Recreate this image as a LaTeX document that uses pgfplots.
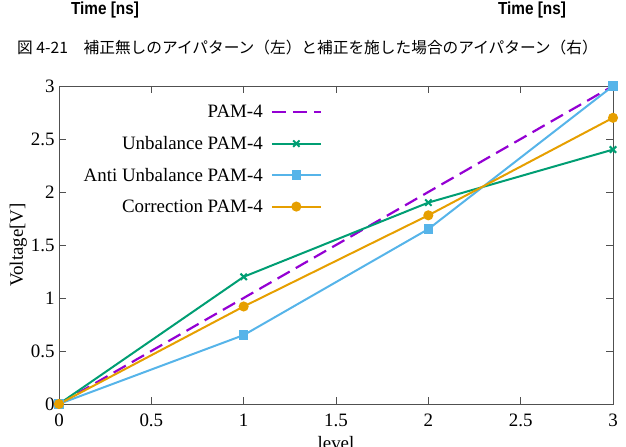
\documentclass[border=0pt]{standalone}
\usepackage{pgfplots}
\pgfplotsset{compat=1.18}
\usepackage{fontspec}
\setmainfont{Liberation Serif}
\newfontfamily\headsans{Liberation Sans}
\newfontfamily\cjk{Noto Sans CJK JP}

\definecolor{gpviolet}{HTML}{9400D3}
\definecolor{gpgreen}{HTML}{009E73}
\definecolor{gpblue}{HTML}{56B4E9}
\definecolor{gporange}{HTML}{E69F00}
\definecolor{framegray}{HTML}{505050}

\begin{document}
\begin{tikzpicture}
\clip (0,0) rectangle (626bp,447bp);
% axis titles of the eye diagrams above (cut by the page edge)
\node[font=\headsans\bfseries\fontsize{17.5}{19}\selectfont, xscale=0.88, anchor=base] at (105bp,432bp) {Time [ns]};
\node[font=\headsans\bfseries\fontsize{17.5}{19}\selectfont, xscale=0.88, anchor=base] at (532bp,432bp) {Time [ns]};
% caption
\node[font=\cjk\fontsize{15.75}{17}\selectfont, anchor=west, inner sep=0pt] at (17bp,399bp)
  {図 4-21　補正無しのアイパターン（左）と補正を施した場合のアイパターン（右）};

\begin{axis}[
  at={(59bp,43bp)}, anchor=south west,
  scale only axis, width=554bp, height=318bp,
  xmin=0, xmax=3, ymin=0, ymax=3,
  xtick={0,0.5,...,3}, ytick={0,0.5,...,3},
  tick align=inside, tick pos=both,
  major tick length=7bp,
  axis line style={framegray, line width=0.8bp},
  every tick/.style={framegray, line width=0.8bp},
  tick label style={font=\fontsize{19}{21}\selectfont},
  xticklabel style={yshift=-6bp},
  yticklabel style={xshift=-1bp},
  /pgf/number format/assume math mode=true,
  xlabel={level}, ylabel={Voltage[V]},
  label style={font=\fontsize{19}{21}\selectfont},
  xlabel style={yshift=-3bp},
  ylabel style={yshift=-3bp},
  legend cell align=right,
  legend plot pos=right,
  legend style={draw=none, fill=none, at={(0.475,0.946)}, anchor=north east,
    font=\fontsize{19}{21}\selectfont, row sep=13bp, inner sep=0pt},
  legend image code/.code={
    \path (0bp,0bp);
    \draw[mark repeat=2, mark phase=2, #1] plot coordinates {(6bp,0bp) (30.5bp,0bp) (55bp,0bp)};
  },
]
\addplot[gpviolet, line width=2.2bp, dash pattern=on 14bp off 7bp] coordinates {
  (0,0) (1,1) (2,2) (3,3)
};
\addlegendentry{PAM-4}
\addplot[gpgreen, line width=2bp, mark=x, mark size=4.5bp, mark options={line width=2bp, solid}] coordinates {
  (0,0) (1,1.2) (2,1.9) (3,2.4)
};
\addlegendentry{Unbalance PAM-4}
\addplot[gpblue, line width=2bp, mark=square*, mark size=3.8bp] coordinates {
  (0,0) (1,0.65) (2,1.65) (3,3.0)
};
\addlegendentry{Anti Unbalance PAM-4}
\addplot[gporange, line width=2bp, mark=*, mark size=4bp] coordinates {
  (0,0) (1,0.92) (2,1.78) (3,2.7)
};
\addlegendentry{Correction PAM-4}
\end{axis}
\end{tikzpicture}
\end{document}
